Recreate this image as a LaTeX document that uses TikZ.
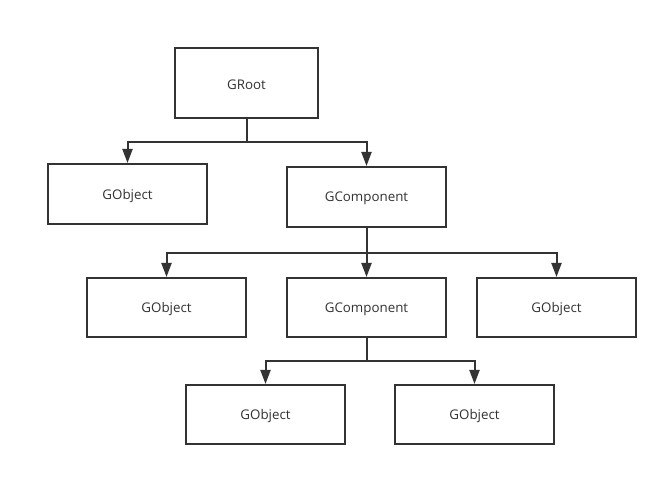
\documentclass[tikz,border=0pt]{standalone}
\usepackage{fontspec}
\setmainfont{Open Sans}
\usetikzlibrary{arrows.meta}
\definecolor{ink}{HTML}{333333}
\newcommand\lbl[1]{\raisebox{-1.3pt}[\height][\depth]{#1}}
\begin{document}
\begin{tikzpicture}[x=0.75pt,y=-0.75pt,
  box/.style={draw=ink,line width=1.5pt,fill=white,minimum width=159*0.75pt,minimum height=60*0.75pt,inner sep=0pt,text=ink,font=\fontsize{10pt}{12pt}\selectfont},
  arr/.style={draw=ink,line width=1.5pt,-{Triangle[length=10.5pt,width=7.5pt]}},
  lnk/.style={draw=ink,line width=1.5pt}]
\useasboundingbox[fill=white] (0,0) rectangle (669,477);
\node[box,minimum width=143*0.75pt,minimum height=70*0.75pt] (root) at (246.5,83) {\lbl{GRoot}};
\node[box] (o1) at (127.5,194) {\lbl{GObject}};
\node[box] (c1) at (366.5,197) {\lbl{GComponent}};
\node[box,minimum height=59*0.75pt] (o2) at (166.5,307.5) {\lbl{GObject}};
\node[box,minimum height=59*0.75pt] (c2) at (366.5,307.5) {\lbl{GComponent}};
\node[box,minimum height=59*0.75pt] (o3) at (556.5,307.5) {\lbl{GObject}};
\node[box,minimum height=59*0.75pt] (o4) at (265.5,414.5) {\lbl{GObject}};
\node[box,minimum height=59*0.75pt] (o5) at (474.5,414.5) {\lbl{GObject}};
\coordinate (b1) at (246.5,142.5);
\coordinate (b2) at (366.5,253);
\coordinate (b3) at (366.5,361);
\draw[lnk] (root.south) -- (b1);
\draw[arr] (b1) -| (o1.north);
\draw[arr] (b1) -| (c1.north);
\draw[lnk] (c1.south) -- (b2);
\draw[arr] (b2) -| (o2.north);
\draw[arr] (b2) -- (c2.north);
\draw[arr] (b2) -| (o3.north);
\draw[lnk] (c2.south) -- (b3);
\draw[arr] (b3) -| (o4.north);
\draw[arr] (b3) -| (o5.north);
\end{tikzpicture}
\end{document}
